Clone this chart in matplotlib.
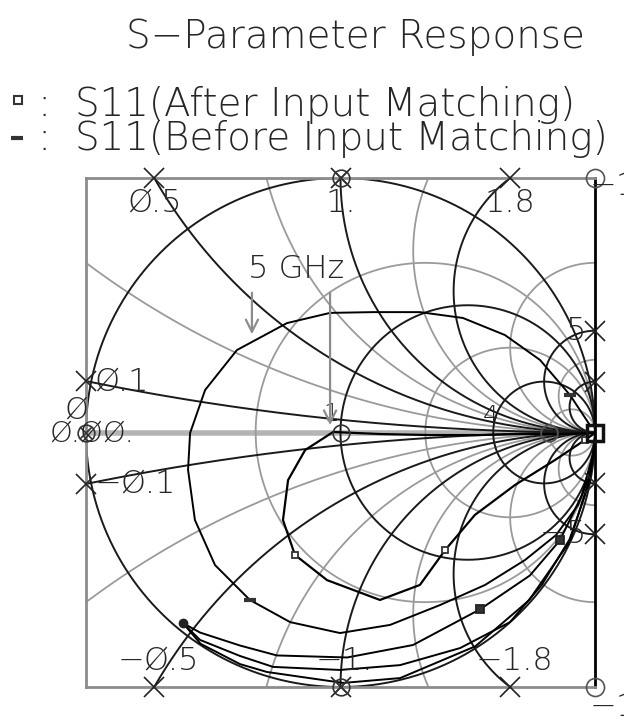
import numpy as np
import matplotlib
matplotlib.use('Agg')
import matplotlib.pyplot as plt

plt.rcParams['font.family'] = ['DejaVu Sans']
plt.rcParams['font.weight'] = 'light'

# Smith chart grid values (normalised impedance)
black_r = [0, 1, 4]
gray_r = [0.5, 2, 10]
black_x = [0.1, 0.5, 1, 1.8, 5, 10, -0.1, -0.5, -1, -1.8, -5, -10]
black_x_labels = ['Ø.1', 'Ø.5', '1.', '1.8', '5', '', '−Ø.1', '−Ø.5', '−1.', '−1.8', '−5', '']
gray_x = [0.3, 0.75, 1.4, 3, 7, -0.3, -0.75, -1.4, -3, -7]

# S11 before input matching (reflection coefficient, re / im)
before_re = [1.00, 0.980, 0.933, 0.847, 0.725, 0.568, 0.391, 0.195, -0.002, -0.198, -0.356,
             -0.493, -0.572, -0.599, -0.591, -0.532, -0.407, -0.210, -0.041, 0.128, 0.312,
             0.481, 0.646, 0.784, 0.902, 0.980]
before_im = [-0.03, -0.167, -0.285, -0.403, -0.501, -0.599, -0.678, -0.756, -0.788, -0.745, -0.658,
             -0.521, -0.344, -0.147, -0.002, 0.167, 0.324, 0.430, 0.470, 0.473, 0.473,
             0.450, 0.383, 0.285, 0.147, 0.029]
before_low_re = [-0.619, -0.55, -0.395, -0.289, 0.01, 0.234, 0.53, 0.74, 0.90, 0.98, 1.00]
before_low_im = [-0.749, -0.83, -0.910, -0.941, -0.984, -0.965, -0.84, -0.66, -0.43, -0.18, -0.03]

# S11 after input matching
after_re = [1.00, 0.862, 0.705, 0.548, 0.352, 0.155, -0.029, -0.139, -0.206, -0.226, -0.179,
            -0.053, 0.155, 0.312, 0.411, 0.528, 0.686, 0.843, 0.961, 1.00]
after_im = [-0.002, -0.006, -0.006, -0.010, -0.010, -0.006, 0.002, -0.069, -0.187, -0.344, -0.481,
            -0.580, -0.658, -0.599, -0.462, -0.324, -0.206, -0.108, -0.029, -0.002]
after_low_re = [-0.619, -0.552, -0.395, -0.250, 0.026, 0.285, 0.548, 0.744, 0.862, 0.948, 0.996]
after_low_im = [-0.749, -0.786, -0.837, -0.876, -0.884, -0.835, -0.695, -0.562, -0.424, -0.247, -0.069]
after_low2_re = [-0.619, -0.552, -0.395, -0.265, -0.002, 0.234, 0.470, 0.666, 0.79, 0.90, 0.97, 1.00]
after_low2_im = [-0.749, -0.815, -0.878, -0.921, -0.933, -0.914, -0.847, -0.745, -0.60, -0.42, -0.22, -0.049]

# 5 GHz points
f5_before = (-0.348, 0.375)
f5_after = (-0.041, 0.018)

ink = '#262626'
fig = plt.figure(figsize=(6.24, 7.21), dpi=100)
ax = fig.add_axes([86 / 624, 34 / 721, 509 / 624, 509 / 721])
ax.set_xlim(-1, 1)
ax.set_ylim(-1, 1)
ax.set_xticks([])
ax.set_yticks([])
for s in ax.spines.values():
    s.set_color('#8c8c8c')
    s.set_linewidth(2)
ax.spines['right'].set_color('black')

t = np.linspace(0, 2 * np.pi, 4000)


def r_circle(r):
    c = r / (1 + r)
    rad = 1 / (1 + r)
    return c + rad * np.cos(t), rad * np.sin(t)


def x_circle(x):
    c = 1 / x
    return 1 + abs(c) * np.cos(t), c + abs(c) * np.sin(t)


def frame_hit(x):
    c = 1 / x
    rad = abs(c)
    s = np.sign(x)
    d = rad ** 2 - (s - c) ** 2
    if d >= 0 and 1 - np.sqrt(d) >= -1:
        return 1 - np.sqrt(d), s, 'tb'
    d = rad ** 2 - 4
    if d >= 0 and abs(c - s * np.sqrt(d)) <= 1:
        return -1, c - s * np.sqrt(d), 'l'
    return 1, 2 * c, 'r'


ax.axhline(0, color='#b4b4b4', lw=4, zorder=1)
for r in gray_r:
    ax.plot(*r_circle(r), color='#9a9a9a', lw=1.3, zorder=1)
for x in gray_x:
    ax.plot(*x_circle(x), color='#9a9a9a', lw=1.3, zorder=1)
for r in black_r:
    ax.plot(*r_circle(r), color='#1a1a1a', lw=1.4, zorder=2)
for x, lab in zip(black_x, black_x_labels):
    ax.plot(*x_circle(x), color='#1a1a1a', lw=1.4, zorder=2)
    hx, hy, side = frame_hit(x)
    ax.plot(hx, hy, marker='x', ms=15, mew=1.2, color='#222', clip_on=False, zorder=5)
    if not lab:
        continue
    if side == 'tb' and hy > 0:
        off, ha, va = (0, -7), 'center', 'top'
    elif side == 'tb':
        off, ha, va = (3, 8), 'center', 'bottom'
    elif side == 'l':
        off, ha, va = (6, 0), 'left', 'center'
    else:
        off, ha, va = (-6, 0), 'right', 'center'
    ax.annotate(lab, (hx, hy), xytext=off, textcoords='offset points', ha=ha, va=va,
                fontsize=23, color=ink, zorder=6, annotation_clip=False)

# traces
ax.plot(before_re, before_im, color='black', lw=1.4, zorder=3)
ax.plot(before_low_re, before_low_im, color='black', lw=1.4, zorder=3)
ax.plot(after_re, after_im, color='black', lw=1.6, zorder=3)
ax.plot(after_low_re, after_low_im, color='black', lw=1.4, zorder=3)
ax.plot(after_low2_re, after_low2_im, color='black', lw=1.4, zorder=3)
ax.plot([before_re[i] for i in (10, 24)], [before_im[i] for i in (10, 24)], ls='none',
        marker='_', ms=9, mew=3, color='#333', zorder=4)
ax.plot([after_re[i] for i in (10, 14, 18)], [after_im[i] for i in (10, 14, 18)], ls='none',
        marker='s', ms=5, mfc='white', mew=1.3, color='#333', zorder=4)
ax.plot([after_low_re[i] for i in (6, 8)], [after_low_im[i] for i in (6, 8)], ls='none',
        marker='s', ms=6, mfc='#333', mew=1.3, color='#222', zorder=4)
ax.plot(before_low_re[0], before_low_im[0], marker='o', ms=6, color='#222', zorder=4)

# chart decorations
ax.plot([0, 0, -1, 0], [1, -1, 0, 0], ls='none', marker='o', ms=12, mfc='none', mew=1.2,
        color='#333', clip_on=False, zorder=5)
ax.plot([0, 0, -1], [1, -1, 0], ls='none', marker='x', ms=8, mew=1.2, color='#333',
        clip_on=False, zorder=5)
ax.plot([1, 1], [1, -1], ls='none', marker='o', ms=13, mfc='none', mew=1.2, color='#555',
        clip_on=False, zorder=5)
ax.plot(9 / 11, 0, marker='o', ms=12, mfc='none', mew=1.3, color='#555', zorder=5)
ax.plot(1, 0, marker='s', ms=11, mfc='none', mew=2.5, color='#111', clip_on=False, zorder=5)
ax.annotate('4', (0.6, 0), xytext=(-2, 3), textcoords='offset points', ha='center',
            va='bottom', fontsize=18, color=ink, zorder=6)
ax.annotate('1', (0, 0), xytext=(-7, 5), textcoords='offset points', ha='center',
            va='bottom', fontsize=18, color=ink, zorder=6)
ax.annotate('Ø', (-1, 0), xytext=(-7, 16), textcoords='offset points', ha='center',
            va='center', fontsize=22, color=ink, annotation_clip=False, zorder=6)
ax.annotate('Ø.ØØ.', (-1, 0), xytext=(4, -1), textcoords='offset points', ha='center',
            va='center', fontsize=21, color=ink, annotation_clip=False, zorder=6)
ax.annotate('−1.', (1, 1), xytext=(-4, -12), textcoords='offset points', ha='left',
            va='baseline', fontsize=23, color=ink, annotation_clip=False, zorder=6)
ax.annotate('−1.', (1, -1), xytext=(-4, -21), textcoords='offset points', ha='left',
            va='baseline', fontsize=23, color=ink, annotation_clip=False, zorder=6)

# 5 GHz annotation
ax.text(-0.175, 0.607, '5 GHz', ha='center', va='baseline', fontsize=23, color=ink, zorder=6)
for pt in (f5_before, f5_after):
    ax.annotate('', xy=pt, xytext=(pt[0], 0.56),
                arrowprops=dict(arrowstyle='->', color='#8c8c8c', lw=1.6,
                                mutation_scale=22), zorder=6)

# title and legend
fig.text(355 / 624, 1 - 48 / 721, 'S−Parameter Response', ha='center', va='baseline',
         fontsize=28, color=ink)
for ypix, name in ((116, 'S11(After Input Matching)'), (150, 'S11(Before Input Matching)')):
    fig.text(37 / 624, 1 - ypix / 721, ':', ha='left', va='baseline', fontsize=28, color=ink)
    fig.text(75 / 624, 1 - ypix / 721, name, ha='left', va='baseline', fontsize=28, color=ink)
fig.lines.append(plt.Line2D([18 / 624], [1 - 100 / 721], marker='s', ms=6, mfc='white',
                            mew=1.5, color='#333', transform=fig.transFigure))
fig.lines.append(plt.Line2D([17 / 624], [1 - 138 / 721], marker='_', ms=9, mew=3,
                            color='#333', transform=fig.transFigure))

fig.savefig('out.png', dpi=100)
